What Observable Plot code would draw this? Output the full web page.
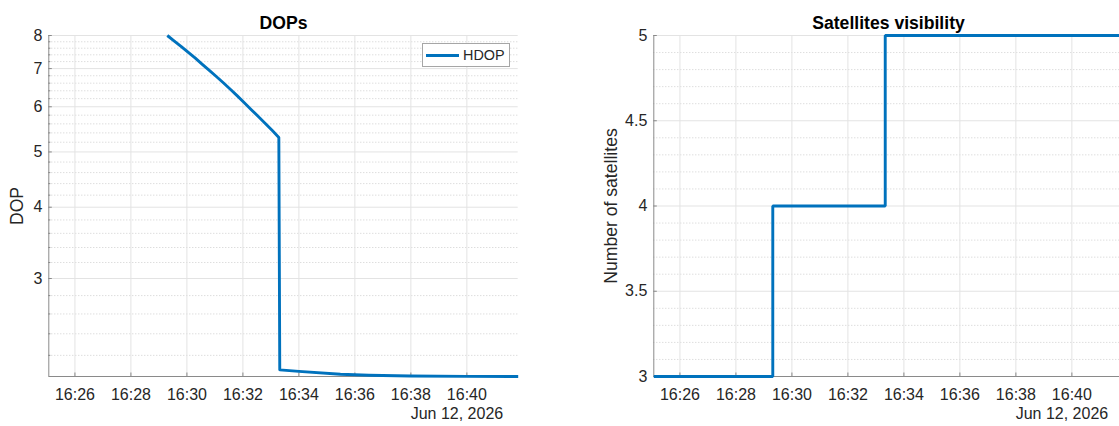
<!DOCTYPE html>
<html>
<head>
<meta charset="utf-8">
<script src="https://cdn.jsdelivr.net/npm/d3@7"></script>
<script src="https://cdn.jsdelivr.net/npm/@observablehq/plot@0.6"></script>
<style>
  html, body { margin: 0; padding: 0; background: #fff; overflow: hidden; }
  #wrap { position: relative; width: 1119px; height: 426px; overflow: hidden; background: #fff;
          font-family: "Liberation Sans", Arial, Helvetica, sans-serif; }
  .panel { position: absolute; top: 0; }
  .panel svg { max-width: none !important; }
  #legend { position: absolute; left: 422px; top: 43px; width: 86px; height: 22px;
            border: 1px solid #a6a6a6; background: #fff; box-sizing: content-box; }
  #legend .sw { position: absolute; left: 3px; top: 9.5px; width: 33px; height: 3px; background: #0072BD; }
  #legend .lb { position: absolute; left: 40px; top: 0; line-height: 22px; font-size: 14.4px; color: #262626; }
</style>
</head>
<body>
<div id="wrap">
  <div id="left" class="panel" style="left:0px;width:560px"></div>
  <div id="right" class="panel" style="left:560px;width:600px"></div>
  <div id="legend"><span class="sw"></span><span class="lb">HDOP</span></div>
</div>
<script>
// ---- data ----
const dateLabel = "Jun 12, 2026";
const timeRange = ["16:25:04", "16:41:50"];

const hdopTimes  = ["16:29:18", "16:29:33", "16:29:48", "16:30:03", "16:30:18", "16:30:33", "16:30:48", "16:31:03",
                    "16:31:18", "16:31:33", "16:31:48", "16:32:03", "16:32:18", "16:32:33", "16:32:48", "16:33:03", "16:33:17",
                    "16:33:19", "16:34:00", "16:35:29", "16:36:30", "16:37:59", "16:40:00", "16:41:50"];
const hdopValues = [8.00, 7.82, 7.65, 7.47, 7.30, 7.12, 6.95, 6.78,
                    6.61, 6.44, 6.27, 6.10, 5.93, 5.77, 5.61, 5.45, 5.30,
                    2.075, 2.062, 2.039, 2.030, 2.024, 2.021, 2.02];

const satTimes  = ["16:25:04", "16:29:19", "16:33:20", "16:41:50"];
const satCounts = [3, 4, 5, 5];

const xTickLabels   = ["16:26", "16:28", "16:30", "16:32", "16:34", "16:36", "16:38", "16:40"];
const dopTicks      = [3, 4, 5, 6, 7, 8];
const dopMinorTicks = [2.2, 2.4, 2.6, 2.8, 3.2, 3.4, 3.6, 3.8, 4.2, 4.4, 4.6, 4.8,
                       5.2, 5.4, 5.6, 5.8, 6.2, 6.4, 6.6, 6.8, 7.2, 7.4, 7.6, 7.8];
const dopDomain     = [2.02, 8];
const satTicks      = [3, 3.5, 4, 4.5, 5];
const satTickLabels = ["3", "3.5", "4", "4.5", "5"];
const satMinorTicks = [3.1, 3.2, 3.3, 3.4, 3.6, 3.7, 3.8, 3.9, 4.1, 4.2, 4.3, 4.4, 4.6, 4.7, 4.8, 4.9];
const satDomain     = [3, 5];

// ---- helpers ----
const toDate = s => { const [h, m, sec = 0] = s.split(":").map(Number); return new Date(2026, 5, 12, h, m, sec); };
const xDomain = timeRange.map(toDate);
const xTicks = xTickLabels.map(toDate);
const fmtHM = d3.timeFormat("%H:%M");

const hdopData = hdopTimes.map((t, i) => ({time: toDate(t), hdop: hdopValues[i]}));
const satData  = satTimes.map((t, i) => ({time: toDate(t), n: satCounts[i]}));

const FONT = '"Liberation Sans", Arial, Helvetica, sans-serif';
const BLUE = "#0072BD";
const GRID = "#e3e3e3";
const MINOR = "#cfcfcf";
const AXIS = "#8a8a8a";
const TEXT = "#262626";
const PW = 469.4;     // plot width
const TOP = 35, BOTTOM_MARGIN = 50, H = 426;

function commonMarks(yTicks, yMinor, yTickFormat, yMinorTickMarks, domX, domY) {
  return [
    Plot.gridY(yMinor, {stroke: MINOR, strokeOpacity: 1, strokeDasharray: "1,2"}),
    Plot.gridX(xTicks, {stroke: GRID, strokeOpacity: 1}),
    Plot.gridY(yTicks, {stroke: GRID, strokeOpacity: 1}),
    Plot.ruleX([domX[0]], {stroke: AXIS, strokeWidth: 1}),
    Plot.ruleY([domY[0]], {stroke: AXIS, strokeWidth: 1}),
    Plot.axisX(xTicks, {tickSize: -3.5, tickFormat: () => "", stroke: AXIS, label: null}),
    Plot.axisX(xTicks, {tickSize: 0, tickPadding: 12.6, tickFormat: fmtHM, fill: TEXT, fontSize: 16, label: null}),
    Plot.axisY(yTicks, {tickSize: -3.5, tickFormat: () => "", stroke: AXIS, label: null}),
    ...(yMinorTickMarks ? [Plot.axisY(yMinor, {tickSize: -2, tickFormat: () => "", stroke: AXIS, label: null})] : []),
    Plot.axisY(yTicks, {tickSize: 0, tickPadding: 6.5, tickFormat: yTickFormat, fill: TEXT, fontSize: 16, label: null}),
    Plot.text([dateLabel], {text: d => d, frameAnchor: "bottom-right", textAnchor: "end", lineAnchor: "bottom",
      dx: -15, dy: 42.5, fill: TEXT, fontSize: 16})
  ];
}

const baseStyle = {fontFamily: FONT, fontSize: "16px", color: TEXT, background: "transparent", overflow: "visible", maxWidth: "none"};

// ---- left panel: DOPs ----
const left = Plot.plot({
  width: 560, height: H,
  marginLeft: 48.3, marginRight: 560 - 48.3 - PW, marginTop: TOP, marginBottom: BOTTOM_MARGIN,
  style: baseStyle,
  x: {type: "time", domain: xDomain},
  y: {type: "log", domain: dopDomain},
  marks: [
    ...commonMarks(dopTicks, dopMinorTicks, d => String(d), true, xDomain, dopDomain),
    Plot.line(hdopData, {x: "time", y: "hdop", stroke: BLUE, strokeWidth: 2.9, strokeLinejoin: "round", strokeLinecap: "butt"}),
    Plot.text(["DOPs"], {text: d => d, frameAnchor: "top", textAnchor: "middle", lineAnchor: "bottom", dy: -7,
      fontWeight: "bold", fontSize: 17.6, fill: "#000"}),
    Plot.text(["DOP"], {text: d => d, frameAnchor: "left", textAnchor: "middle", lineAnchor: "middle", rotate: -90,
      dx: -31, fontSize: 17.6, fill: TEXT})
  ]
});
document.getElementById("left").appendChild(left);

// ---- right panel: Satellites visibility ----
const right = Plot.plot({
  width: 600, height: H,
  marginLeft: 93.3, marginRight: 600 - 93.3 - PW, marginTop: TOP, marginBottom: BOTTOM_MARGIN,
  style: baseStyle,
  x: {type: "time", domain: xDomain},
  y: {type: "linear", domain: satDomain},
  marks: [
    ...commonMarks(satTicks, satMinorTicks, d => satTickLabels[satTicks.indexOf(d)], false, xDomain, satDomain),
    Plot.line(satData, {x: "time", y: "n", curve: "step-after", stroke: BLUE, strokeWidth: 2.9, strokeLinejoin: "miter", strokeLinecap: "butt"}),
    Plot.text(["Satellites visibility"], {text: d => d, frameAnchor: "top", textAnchor: "middle", lineAnchor: "bottom", dy: -7,
      fontWeight: "bold", fontSize: 17.6, fill: "#000"}),
    Plot.text(["Number of satellites"], {text: d => d, frameAnchor: "left", textAnchor: "middle", lineAnchor: "middle", rotate: -90,
      dx: -42.3, fontSize: 17.6, fill: TEXT})
  ]
});
document.getElementById("right").appendChild(right);
</script>
</body>
</html>
